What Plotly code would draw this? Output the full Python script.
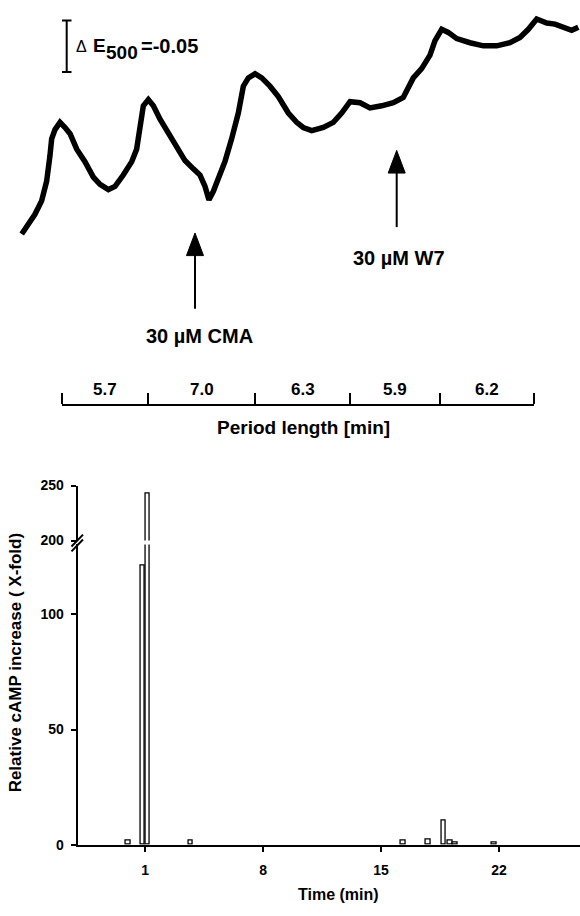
import plotly.graph_objects as go

W, H = 580, 916
FONT = "Arial, Liberation Sans, sans-serif"

# ---------------- data: upper panel (extinction trace) ----------------
trace_time_min = [-2.63, -1.97, -1.76, -1.32, -0.99, -0.77, -0.66, -0.44, -0.11, 0.22,
                  0.55, 0.99, 1.53, 2.08, 2.52, 3.07, 3.51, 4.05, 4.61, 4.93,
                  5.15, 5.37, 5.70, 6.03, 6.47, 7.01, 7.57, 8.11, 8.66, 9.10,
                  9.43, 9.69, 9.97, 10.30, 10.74, 11.18, 11.62, 11.95, 12.28, 12.72,
                  13.16, 13.70, 14.25, 14.91, 15.46, 15.89, 16.45, 17.21, 17.87, 18.42,
                  18.97, 19.63, 20.28, 21.05, 21.82, 22.47, 22.80, 23.13, 23.68, 24.23,
                  24.56, 25.00, 25.43, 25.99, 26.86, 27.74, 28.62, 29.49, 30.15, 30.70,
                  31.25, 31.91, 32.45, 33.00, 33.55, 33.99]
trace_dE = [0.000, 0.014, 0.019, 0.032, 0.051, 0.076, 0.092, 0.101, 0.108, 0.103,
            0.097, 0.082, 0.070, 0.055, 0.048, 0.043, 0.046, 0.057, 0.070, 0.082,
            0.105, 0.124, 0.130, 0.124, 0.111, 0.097, 0.084, 0.071, 0.063, 0.057,
            0.046, 0.033, 0.041, 0.054, 0.070, 0.092, 0.117, 0.143, 0.151, 0.155,
            0.151, 0.143, 0.133, 0.117, 0.108, 0.103, 0.100, 0.103, 0.108, 0.117,
            0.128, 0.127, 0.122, 0.124, 0.127, 0.132, 0.143, 0.151, 0.160, 0.173,
            0.187, 0.198, 0.195, 0.189, 0.185, 0.182, 0.182, 0.185, 0.190, 0.198,
            0.208, 0.204, 0.203, 0.200, 0.197, 0.200]
period_lengths = [5.7, 7.0, 6.3, 5.9, 6.2]
addition_times = [8.77, 22.04]
addition_labels = ["30 µM CMA", "30 µM W7"]
scale_bar_dE = 0.05
scale_bar_top = 0.2066

# ---------------- data: lower panel (cAMP bars) ----------------
bar_time = [0.0, 0.85, 1.15, 3.7, 16.3, 17.8, 18.7, 19.1, 19.4, 21.7]
bar_fold = [2.0, 121, 243, 2.0, 2.0, 2.5, 10.5, 2.0, 1.2, 1.0]
x_ticks = [1, 8, 15, 22]
y_ticks_low = [0, 50, 100]
y_ticks_high = [200, 250]

# ---------------- helpers (pixel -> paper) ----------------
def px(x):
    return x / W

def py(y):
    return 1 - y / H

TOP_X_RANGE = [-4.059, 34.099]
TOP_Y_RANGE = [-0.1768, 0.2186]

boundaries = [0.0]
for p in period_lengths:
    boundaries.append(round(boundaries[-1] + p, 2))
mids = [(boundaries[i] + boundaries[i + 1]) / 2 for i in range(len(period_lengths))]
span = TOP_X_RANGE[1] - TOP_X_RANGE[0]
x2_dom = [(boundaries[0] - TOP_X_RANGE[0]) / span, (boundaries[-1] - TOP_X_RANGE[0]) / span]

fig = go.Figure()

fig.add_trace(go.Scatter(
    x=trace_time_min, y=trace_dE, mode="lines",
    line=dict(color="black", width=5.5), xaxis="x", yaxis="y",
    showlegend=False, hoverinfo="skip"))

# invisible trace to host the period axis
fig.add_trace(go.Scatter(
    x=[boundaries[0], boundaries[-1]], y=[0, 0], mode="markers",
    marker=dict(opacity=0), xaxis="x2", yaxis="y",
    showlegend=False, hoverinfo="skip"))

bar_style = dict(color="white", line=dict(color="black", width=1.3))
fig.add_trace(go.Bar(x=bar_time, y=bar_fold, width=0.26, marker=bar_style,
                     xaxis="x3", yaxis="y2", showlegend=False))
fig.add_trace(go.Bar(x=bar_time, y=bar_fold, width=0.26, marker=bar_style,
                     xaxis="x3", yaxis="y3", showlegend=False))

shapes = []
ann = []

# scale bar
sx = px(66.7)
shapes.append(dict(type="line", xref="paper", yref="y", x0=sx, x1=sx,
                   y0=scale_bar_top - scale_bar_dE, y1=scale_bar_top,
                   line=dict(color="black", width=2)))
for yy in (scale_bar_top - scale_bar_dE, scale_bar_top):
    shapes.append(dict(type="line", xref="paper", yref="y", x0=px(62), x1=px(71.5),
                       y0=yy, y1=yy, line=dict(color="black", width=2)))

ann.append(dict(text="Δ", x=px(74), y=py(39), xref="paper", yref="paper",
                xanchor="left", yanchor="middle", showarrow=False,
                font=dict(family=FONT, size=16, color="black")))
ann.append(dict(text="<b>E</b>", x=px(91), y=py(38.5), xref="paper", yref="paper",
                xanchor="left", yanchor="middle", showarrow=False,
                font=dict(family=FONT, size=19, color="black")))
ann.append(dict(text="<b>500</b>", x=px(104), y=py(45.5), xref="paper", yref="paper",
                xanchor="left", yanchor="middle", showarrow=False,
                font=dict(family=FONT, size=19, color="black")))
ann.append(dict(text="<b>=-0.05</b>", x=px(139), y=py(38.5), xref="paper", yref="paper",
                xanchor="left", yanchor="middle", showarrow=False,
                font=dict(family=FONT, size=20, color="black")))

# addition arrows
arrow_geom = [dict(tip=229, bottom=306, label_y=334, dx=4),
              dict(tip=145, bottom=223, label_y=254, dx=2)]
head_len, head_half = 23, 0.56
for t, lab, g in zip(addition_times, addition_labels, arrow_geom):
    shapes.append(dict(type="line", xref="x", yref="paper", x0=t, x1=t,
                       y0=py(g["tip"] + head_len - 2), y1=py(g["bottom"]),
                       line=dict(color="black", width=2)))
    shapes.append(dict(type="path", xref="x", yref="paper",
                       path=f"M {t},{py(g['tip'])} L {t - head_half},{py(g['tip'] + head_len)} "
                            f"L {t + head_half},{py(g['tip'] + head_len)} Z",
                       fillcolor="black", line=dict(color="black", width=1)))
    ann.append(dict(text=f"<b>{lab}</b>", x=t, y=py(g["label_y"]), xref="x", yref="paper",
                    xshift=g["dx"], xanchor="center", yanchor="middle", showarrow=False,
                    font=dict(family=FONT, size=20, color="black")))

# period labels
for m, p in zip(mids, period_lengths):
    ann.append(dict(text=f"<b>{p:.1f}</b>", x=m, y=py(388), xref="x2", yref="paper",
                    xanchor="center", yanchor="middle", showarrow=False,
                    font=dict(family=FONT, size=17, color="black")))
ann.append(dict(text="<b>Period length [min]</b>", x=px(303), y=py(427),
                xref="paper", yref="paper", xanchor="center", yanchor="middle",
                showarrow=False, font=dict(family=FONT, size=19, color="black")))

# lower panel titles
ann.append(dict(text="<b>Time (min)</b>", x=px(338), y=py(902), xref="paper", yref="paper",
                xanchor="center", yanchor="middle", showarrow=False,
                font=dict(family=FONT, size=16, color="black")))
ann.append(dict(text="<b>Relative cAMP increase ( X-fold)</b>", x=px(15), y=py(666),
                xref="paper", yref="paper", xanchor="center", yanchor="middle",
                textangle=-90, showarrow=False,
                font=dict(family=FONT, size=17, color="black")))

# axis break marks
for off in (0, 5):
    shapes.append(dict(type="line", xref="paper", yref="paper",
                       x0=px(71.5), y0=py(548 + off), x1=px(83), y1=py(536 + off),
                       line=dict(color="black", width=2)))

tickfont = dict(family=FONT, size=14, color="black", weight="bold")

fig.update_layout(
    width=W, height=H, margin=dict(l=0, r=0, t=0, b=0),
    paper_bgcolor="white", plot_bgcolor="rgba(0,0,0,0)",
    showlegend=False, bargap=0,
    xaxis=dict(domain=[0, 1], range=TOP_X_RANGE, visible=False, anchor="y"),
    yaxis=dict(domain=[py(416), 1], range=TOP_Y_RANGE, visible=False, anchor="x"),
    xaxis2=dict(domain=x2_dom, range=[boundaries[0], boundaries[-1]],
                anchor="free", position=py(404), side="top",
                showline=True, linecolor="black", linewidth=2,
                ticks="outside", ticklen=11, tickwidth=2, tickcolor="black",
                tickvals=boundaries, showticklabels=False, showgrid=False,
                zeroline=False),
    xaxis3=dict(domain=[px(77.7), 1], range=[-3, 26.8], anchor="y2",
                showline=True, linecolor="black", linewidth=2,
                ticks="outside", ticklen=5, tickwidth=2, tickcolor="black",
                tickvals=x_ticks, tickfont=tickfont, ticklabelstandoff=6,
                showgrid=False, zeroline=False),
    yaxis2=dict(domain=[py(851.7), py(546)], range=[0, 130.3], anchor="x3",
                showline=True, linecolor="black", linewidth=2,
                ticks="outside", ticklen=5, tickwidth=2, tickcolor="black",
                tickvals=y_ticks_low, tickfont=tickfont, ticklabelstandoff=4,
                showgrid=False, zeroline=False),
    yaxis3=dict(domain=[py(542), py(486)], range=[200, 250], anchor="x3",
                showline=True, linecolor="black", linewidth=2,
                ticks="outside", ticklen=5, tickwidth=2, tickcolor="black",
                tickvals=y_ticks_high, tickfont=tickfont, ticklabelstandoff=4,
                showgrid=False, zeroline=False),
    shapes=shapes, annotations=ann,
)

fig.write_html("out.html")
